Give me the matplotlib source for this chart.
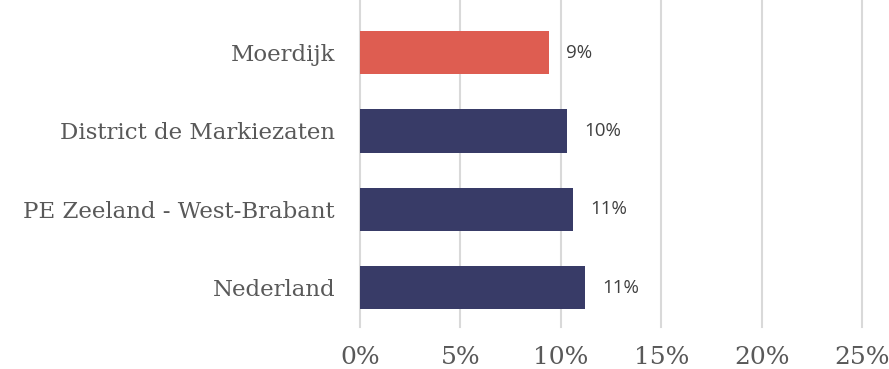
import matplotlib.pyplot as plt
from matplotlib.ticker import PercentFormatter

regions = ['Moerdijk', 'District de Markiezaten', 'PE Zeeland - West-Brabant', 'Nederland']
shares = [0.094, 0.103, 0.106, 0.112]
bar_colors = ['#DE5D51', '#383B67', '#383B67', '#383B67']
x_ticks = [0, 0.05, 0.10, 0.15, 0.20, 0.25]

fig = plt.figure(figsize=(8.89, 3.69), dpi=100)
ax = fig.add_axes([360 / 889, 42 / 369, 502 / 889, 327 / 369])

ypos = list(range(len(regions)))
ax.barh(ypos, shares, height=0.55, color=bar_colors, zorder=2)

for y, v in zip(ypos, shares):
    ax.text(v + 0.0085, y, f'{round(v * 100):.0f}%', va='center', ha='left',
            fontsize=13.5, color='#404040', family='Open Sans',
            bbox=dict(facecolor='white', edgecolor='none', pad=2), zorder=3)

ax.set_yticks(ypos)
ax.set_yticklabels(regions, family='DejaVu Serif', fontsize=16.5, color='#595959')
ax.set_ylim(3.5, -0.67)

ax.set_xlim(0, 0.25)
ax.set_xticks(x_ticks)
ax.xaxis.set_major_formatter(PercentFormatter(1.0, decimals=0))
for lbl in ax.get_xticklabels():
    lbl.set_family('DejaVu Serif')
    lbl.set_fontsize(18)
    lbl.set_color('#595959')
ax.tick_params(axis='x', length=0, pad=14)
ax.tick_params(axis='y', length=0, pad=18)

ax.grid(axis='x', color='#d9d9d9', linewidth=1.5, zorder=0)
for gl in ax.get_xgridlines():
    gl.set_clip_on(False)
for s in ax.spines.values():
    s.set_visible(False)

fig.savefig('out.png', dpi=100)
